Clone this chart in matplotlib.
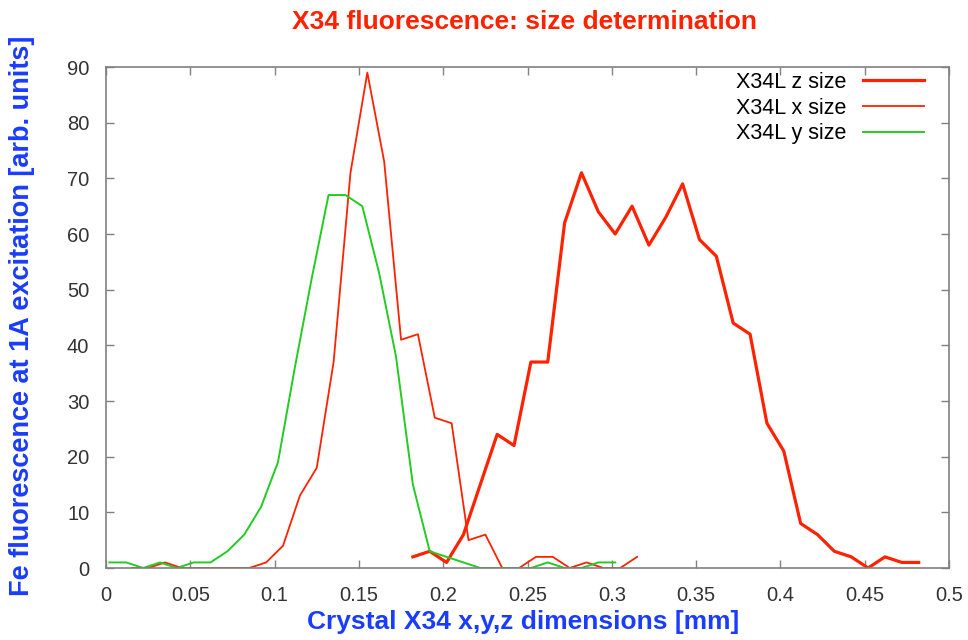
import matplotlib
matplotlib.use("Agg")
import matplotlib.pyplot as plt

plt.rcParams["font.family"] = ["Liberation Sans", "DejaVu Sans"]

# z size scan (thick red)
z_pos = [0.182, 0.192, 0.202, 0.212, 0.222, 0.232, 0.242, 0.252, 0.262, 0.272,
         0.282, 0.292, 0.302, 0.312, 0.322, 0.332, 0.342, 0.352, 0.362, 0.372,
         0.382, 0.392, 0.402, 0.412, 0.422, 0.432, 0.442, 0.452, 0.462, 0.472, 0.482]
z_val = [2, 3, 1, 6, 15, 24, 22, 37, 37, 62,
         71, 64, 60, 65, 58, 63, 69, 59, 56, 44,
         42, 26, 21, 8, 6, 3, 2, 0, 2, 1, 1]

# x size scan (thin red)
x_pos = [0.015, 0.025, 0.035, 0.045, 0.055, 0.065, 0.075, 0.085, 0.095, 0.105,
         0.115, 0.125, 0.135, 0.145, 0.155, 0.165, 0.175, 0.185, 0.195, 0.205,
         0.215, 0.225, 0.235, 0.245, 0.255, 0.265, 0.275, 0.285, 0.295, 0.305, 0.315]
x_val = [0, 0, 1, 0, 0, 0, 0, 0, 1, 4,
         13, 18, 37, 71, 89, 73, 41, 42, 27, 26,
         5, 6, 0, 0, 2, 2, 0, 1, 0, 0, 2]

# y size scan (green)
y_pos = [0.002, 0.012, 0.022, 0.032, 0.042, 0.052, 0.062, 0.072, 0.082, 0.092,
         0.102, 0.112, 0.122, 0.132, 0.142, 0.152, 0.162, 0.172, 0.182, 0.192,
         0.202, 0.212, 0.222, 0.232, 0.242, 0.252, 0.262, 0.272, 0.282, 0.292, 0.302]
y_val = [1, 1, 0, 1, 0, 1, 1, 3, 6, 11,
         19, 36, 52, 67, 67, 65, 53, 38, 15, 3,
         2, 1, 0, 0, 0, 0, 1, 0, 0, 1, 1]

x_ticks = [0, 0.05, 0.1, 0.15, 0.2, 0.25, 0.3, 0.35, 0.4, 0.45, 0.5]
x_tick_labels = ["0", "0.05", "0.1", "0.15", "0.2", "0.25", "0.3", "0.35", "0.4", "0.45", "0.5"]
y_ticks = [0, 10, 20, 30, 40, 50, 60, 70, 80, 90]

red = "#ff2200"
green = "#22cc22"
blue = "#1a3cff"

fig = plt.figure(figsize=(9.68, 6.4), dpi=100)
ax = fig.add_axes([0.1095, 0.1125, 0.8709, 0.7828])

ax.plot(z_pos, z_val, color=red, lw=2.3, label="X34L z size")
ax.plot(x_pos, x_val, color=red, lw=1.3, label="X34L x size")
ax.plot(y_pos, y_val, color=green, lw=1.4, label="X34L y size")

ax.set_xlim(0, 0.5)
ax.set_ylim(0, 90)
ax.set_xticks(x_ticks)
ax.set_xticklabels(x_tick_labels)
ax.set_yticks(y_ticks)
ax.tick_params(direction="in", length=6, width=1, color="#808080",
               top=True, right=True, labelsize=14.5, labelcolor="#333333")
ax.tick_params(axis="x", pad=13)
ax.tick_params(axis="y", pad=12)
for s in ax.spines.values():
    s.set_color("#808080")
    s.set_linewidth(1.2)

fig.text(0.542, 0.966, "X34 fluorescence: size determination", color=red,
         fontsize=19, fontweight="bold", ha="center", va="center")
ax.set_xlabel("Crystal X34 x,y,z dimensions [mm]", color=blue, fontsize=19,
              fontweight="bold", va="center", ha="center")
ax.xaxis.set_label_coords(0.495, -0.108)
ax.set_ylabel("Fe fluorescence at 1A excitation [arb. units]", color=blue,
              fontsize=19.5, fontweight="bold", va="center", ha="center")
ax.yaxis.set_label_coords(-0.1, 0.503)

ax.legend(loc="upper right", bbox_to_anchor=(0.97, 0.99), frameon=False,
          markerfirst=False, fontsize=15.5, handlelength=2.8, labelspacing=0.22,
          borderaxespad=0, borderpad=0, handletextpad=0.8)

fig.savefig("out.png", dpi=100)
